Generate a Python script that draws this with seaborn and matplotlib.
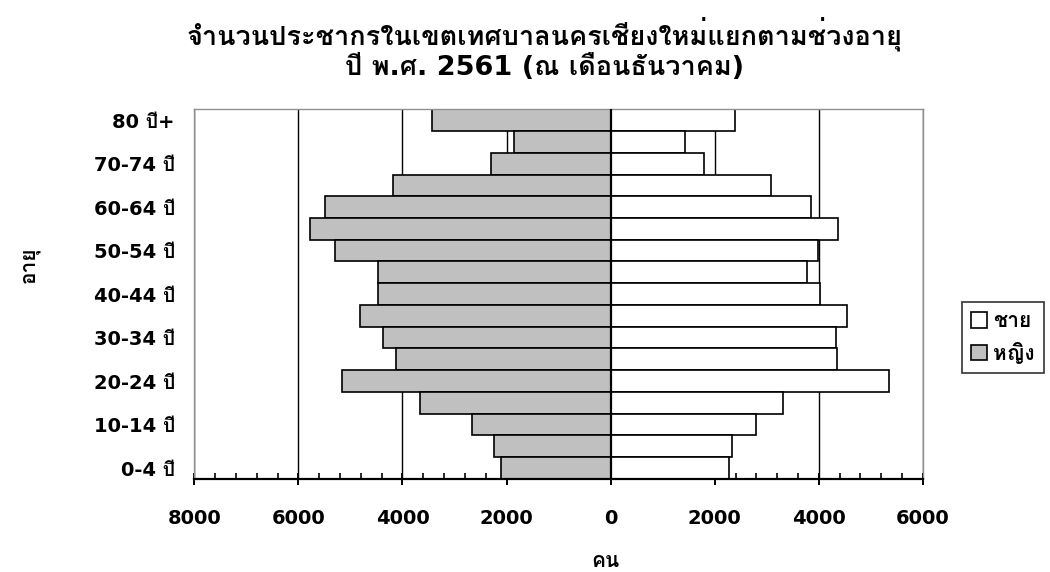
import matplotlib
matplotlib.use("Agg")
import numpy as np
import pandas as pd
import seaborn as sns
import matplotlib.pyplot as plt
from matplotlib.ticker import MultipleLocator, FuncFormatter
from matplotlib.patches import Patch

# ---- data ----
age_groups = ["80 ปี+", "75-79 ปี", "70-74 ปี", "65-69 ปี", "60-64 ปี", "55-59 ปี",
              "50-54 ปี", "45-49 ปี", "40-44 ปี", "35-39 ปี", "30-34 ปี", "25-29 ปี",
              "20-24 ปี", "15-19 ปี", "10-14 ปี", "5-9 ปี", "0-4 ปี"]
male = [2380, 1430, 1790, 3090, 3840, 4360, 3980, 3770, 4030, 4550,
        4320, 4350, 5340, 3320, 2800, 2340, 2270]
female = [3430, 1860, 2300, 4180, 5480, 5780, 5290, 4470, 4470, 4810,
          4380, 4120, 5160, 3670, 2660, 2240, 2100]
series_names = ["ชาย", "หญิง"]
x_ticks = [-8000, -6000, -4000, -2000, 0, 2000, 4000, 6000]

title_text = "จำนวนประชากรในเขตเทศบาลนครเชียงใหม่แยกตามช่วงอายุ\nปี พ.ศ. 2561 (ณ เดือนธันวาคม)"
y_label = "อายุ"
x_label = "คน"

sns.set_style("white")
plt.rcParams["font.family"] = ["DejaVu Sans", "Loma"]
plt.rcParams["font.weight"] = "bold"
plt.rcParams["text.color"] = "black"
plt.rcParams["xtick.color"] = "black"
plt.rcParams["ytick.color"] = "black"
plt.rcParams["xtick.labelcolor"] = "black"
plt.rcParams["ytick.labelcolor"] = "black"

male_color = "#FFFFFF"
female_color = "#C0C0C0"

df = pd.DataFrame({"age": age_groups, "male": male,
                   "female": [-v for v in female]})

fig = plt.figure(figsize=(10.5, 5.72), dpi=100)
ax = fig.add_axes([0.185, 0.1626, 0.879 - 0.185, 0.809 - 0.1626])

sns.barplot(data=df, x="female", y="age", order=age_groups, orient="h",
            width=1.0, color=female_color, saturation=1, edgecolor="black",
            linewidth=1.2, ax=ax, zorder=2)
sns.barplot(data=df, x="male", y="age", order=age_groups, orient="h",
            width=1.0, color=male_color, saturation=1, edgecolor="black",
            linewidth=1.2, ax=ax, zorder=2)

ax.set_xlim(x_ticks[0], x_ticks[-1])
ax.set_ylim(len(age_groups) - 0.5, -0.5)

ax.set_xticks(x_ticks)
ax.xaxis.set_minor_locator(MultipleLocator(400))
ax.xaxis.set_major_formatter(FuncFormatter(lambda v, p: f"{abs(int(v))}"))
ax.set_yticks(range(0, len(age_groups), 2))
ax.set_yticklabels(age_groups[::2])

ax.grid(axis="x", which="major", color="black", linewidth=1.0)
ax.grid(axis="y", visible=False)
ax.set_axisbelow(True)
ax.axvline(0, color="black", linewidth=1.6, zorder=3)

for s in ["left", "top", "right"]:
    ax.spines[s].set_color("#909090")
    ax.spines[s].set_linewidth(1.0)
ax.spines["bottom"].set_color("black")
ax.spines["bottom"].set_linewidth(1.6)
ax.spines["bottom"].set_zorder(4)

ax.tick_params(axis="x", which="major", direction="inout", length=9, width=1.4,
               color="black", labelcolor="black", labelsize=14, pad=17, bottom=True)
ax.tick_params(axis="x", which="minor", direction="in", length=4, width=1.2,
               color="black", bottom=True)
ax.tick_params(axis="y", which="both", length=0, labelsize=14, pad=14,
               labelcolor="black")
for lab in ax.get_xticklabels() + ax.get_yticklabels():
    lab.set_fontweight("bold")

ax.set_xlabel("")
ax.set_ylabel("")
fig.text(30 / 1050, 1 - 265 / 572, y_label, rotation=90, ha="center", va="center",
         fontsize=15, fontweight="bold", color="black")
fig.text(605 / 1050, 1 - 551 / 572, x_label, ha="center", va="top",
         fontsize=15, fontweight="bold", color="black")
fig.text(545 / 1050, 1 - 49 / 572, title_text, ha="center", va="center",
         fontsize=19.5, fontweight="bold", linespacing=1.12, color="black")

handles = [Patch(facecolor=male_color, edgecolor="black", linewidth=1.2),
           Patch(facecolor=female_color, edgecolor="black", linewidth=1.2)]
leg = fig.legend(handles, series_names, loc="upper left",
                 bbox_to_anchor=(962 / 1050, 1 - 302 / 572),
                 bbox_transform=fig.transFigure, frameon=True, fancybox=False,
                 handlelength=0.75, handleheight=0.75, handletextpad=0.3,
                 borderpad=0.45, labelspacing=0.5, borderaxespad=0,
                 prop={"size": 15, "weight": "bold"})
leg.get_frame().set_edgecolor("black")
leg.get_frame().set_linewidth(1.2)
for t in leg.get_texts():
    t.set_color("black")

fig.savefig("out.png", dpi=100)
